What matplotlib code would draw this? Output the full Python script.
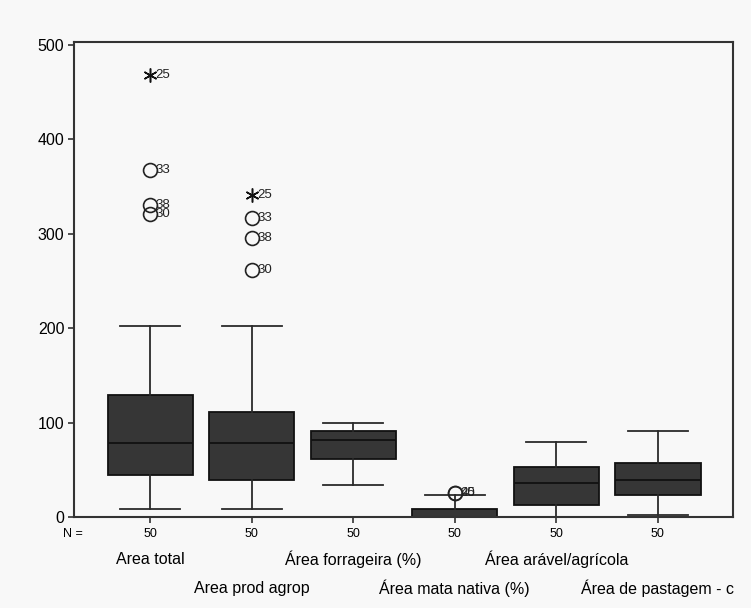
"""Boxplots das áreas das propriedades (estilo SPSS)"""
import matplotlib
matplotlib.use("Agg")
from matplotlib import pyplot as plt

plt.rcParams['font.family'] = ['Liberation Sans', 'DejaVu Sans']

categorias = ['Area total', 'Area prod agrop', 'Área forrageira (%)',
              'Área mata nativa (%)', 'Área arável/agrícola', 'Área de pastagem - c']
n_casos = [50, 50, 50, 50, 50, 50]

# estatísticas
minimo = [9, 9, 34, 0, 0, 2.5]
q1 = [44.6, 39.6, 61, 0, 12.5, 23]
mediana = [78, 78, 81.5, 0, 36, 39.5]
q3 = [129.5, 111, 91.5, 8.5, 52.5, 57.5]
maximo = [202, 202, 100, 23, 79.5, 91.5]

# outliers: (grupo, valor, caso, extremo?)
out_grupo = [1, 1, 1, 1, 2, 2, 2, 2, 4, 4]
out_valor = [468, 367.5, 330.5, 321, 341, 317, 295, 262, 25.5, 25.5]
out_caso = ['25', '33', '38', '30', '25', '33', '38', '30', '25', '40']
out_extremo = [True, False, False, False, True, False, False, False, False, False]

posicoes = list(range(1, len(categorias) + 1))

fig = plt.figure(figsize=(7.51, 6.08), dpi=100, facecolor='#f8f8f8')
ax = fig.add_axes([74 / 751, 91 / 608, 659 / 751, 475 / 608])
ax.set_facecolor('#f8f8f8')

stats = []
for i in range(len(categorias)):
    stats.append({'med': mediana[i], 'q1': q1[i], 'q3': q3[i],
                  'whislo': minimo[i], 'whishi': maximo[i], 'fliers': []})

linha = dict(color='#2a2a2a', linewidth=1.3)
ax.bxp(stats, positions=posicoes, widths=0.84, patch_artist=True,
       showfliers=False,
       boxprops=dict(facecolor='#363636', edgecolor='#111111', linewidth=1.3),
       medianprops=dict(color='#111111', linewidth=1.3),
       whiskerprops=linha, capprops=linha, capwidths=0.59)

# outliers (círculo) e extremos (asterisco)
for g, v, c, ext in zip(out_grupo, out_valor, out_caso, out_extremo):
    if ext:
        ax.plot(g, v, marker=(6, 2, 0), markersize=10, color='#111111',
                markeredgewidth=1.1, linestyle='none')
    else:
        ax.plot(g, v, marker='o', markersize=10, markerfacecolor='none',
                markeredgecolor='#222222', markeredgewidth=1.2, linestyle='none')
    ax.annotate(c, (g, v), xytext=(4, 0), textcoords='offset points',
                ha='left', va='center', fontsize=9.5, color='#222222')

ax.set_xlim(0.25, 6.74)
ax.set_ylim(0, 503)
ax.set_yticks([0, 100, 200, 300, 400, 500])
ax.tick_params(axis='y', labelsize=11.5, length=4, width=1.2, color='#333333', pad=3)
ax.set_xticks(posicoes)
ax.set_xticklabels([str(n) for n in n_casos], fontsize=9)
ax.tick_params(axis='x', length=4, width=1.2, color='#333333', pad=4)
for sp in ax.spines.values():
    sp.set_color('#333333')
    sp.set_linewidth(1.5)

# "N =" à esquerda
ax.annotate('N =', (0, 0), xycoords='axes fraction', xytext=(-11, -17),
            textcoords='offset pixels', ha='left', va='center', fontsize=9)

# rótulos das categorias em duas linhas alternadas
for i, (p, nome) in enumerate(zip(posicoes, categorias)):
    desloc = -42 if i % 2 == 0 else -71
    ax.annotate(nome, (p, 0), xycoords=('data', 'axes fraction'),
                xytext=(0, desloc), textcoords='offset pixels',
                ha='center', va='center', fontsize=11.5)

plt.savefig('out.png', dpi=100, facecolor=fig.get_facecolor())
